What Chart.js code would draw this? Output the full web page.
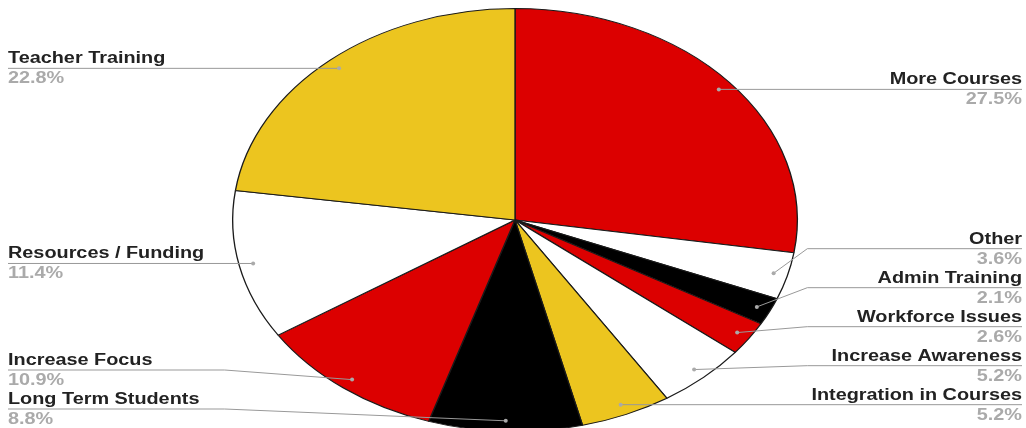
<!DOCTYPE html>
<html>
<head>
<meta charset="utf-8">
<script src="https://cdn.jsdelivr.net/npm/chart.js@4"></script>
<style>
  html, body { margin: 0; padding: 0; background: #fff; overflow: hidden; }
  #wrap { width: 1026px; height: 440px; }
</style>
</head>
<body>
<div id="wrap"><canvas id="myChart"></canvas></div>
<script>
const categories = [
  "More Courses", "Other", "Admin Training", "Workforce Issues",
  "Increase Awareness", "Integration in Courses", "Long Term Students",
  "Increase Focus", "Resources / Funding", "Teacher Training"
];
const shares = [27.5, 3.6, 2.1, 2.6, 5.2, 5.2, 8.8, 10.9, 11.4, 22.8];
const sliceColors = [
  "#dc0000", "#ffffff", "#000000", "#dc0000", "#ffffff",
  "#ecc51f", "#000000", "#dc0000", "#ffffff", "#ecc51f"
];

const stretchX = 283 / 212; // pie is drawn as a wide ellipse
const textStretch = 1.24;   // labels are a bit wide too
const font = "bold 16px 'Liberation Sans', Arial, sans-serif";

// squash the round pie into an ellipse
const ellipsePlugin = {
  id: "ellipse",
  beforeDatasetsDraw(chart) {
    const arc = chart.getDatasetMeta(0).data[0];
    const ctx = chart.ctx;
    ctx.save();
    ctx.translate(arc.x, arc.y);
    ctx.scale(stretchX, 1);
    ctx.translate(-arc.x, -arc.y);
  },
  afterDatasetsDraw(chart) {
    chart.ctx.restore();
  }
};

function wideText(ctx, txt, x, y, align) {
  ctx.save();
  ctx.translate(x, y);
  ctx.scale(textStretch, 1);
  ctx.textAlign = align;
  ctx.fillText(txt, 0, 0);
  ctx.restore();
}

// leader lines and labels like the original
const labelPlugin = {
  id: "sideLabels",
  afterDraw(chart) {
    const ctx = chart.ctx;
    const arcs = chart.getDatasetMeta(0).data;
    const cx = arcs[0].x, cy = arcs[0].y, r = arcs[0].outerRadius;
    const left = [], right = [];
    arcs.forEach((a, i) => {
      const mid = (a.startAngle + a.endAngle) / 2;
      const dx = cx + Math.cos(mid) * r * 0.95 * stretchX;
      const dy = cy + Math.sin(mid) * r * 0.95;
      const item = { i, dx, dy, ly: dy };
      (dx >= cx ? right : left).push(item);
    });
    const gap = 39, bottom = 409;
    [left, right].forEach(side => {
      side.sort((a, b) => a.dy - b.dy);
      for (let k = side.length - 1; k >= 0; k--) {
        const limit = k === side.length - 1 ? bottom : side[k + 1].ly - gap;
        side[k].ly = Math.min(side[k].dy, limit);
      }
    });
    ctx.save();
    ctx.font = font;
    ctx.textBaseline = "alphabetic";
    const draw = (item, isRight) => {
      const textX = isRight ? 1022 : 8;
      const bendX = isRight ? cx + r * stretchX + 10 : cx - r * stretchX - 8;
      ctx.strokeStyle = "#999";
      ctx.lineWidth = 1;
      ctx.beginPath();
      ctx.moveTo(textX, item.ly);
      if (Math.abs(item.ly - item.dy) > 1) ctx.lineTo(bendX, item.ly);
      ctx.lineTo(item.dx, item.dy);
      ctx.stroke();
      ctx.fillStyle = "#aaa";
      ctx.beginPath();
      ctx.arc(item.dx, item.dy, 2, 0, Math.PI * 2);
      ctx.fill();
      const align = isRight ? "right" : "left";
      ctx.fillStyle = "#222";
      wideText(ctx, categories[item.i], textX, item.ly - 5, align);
      ctx.fillStyle = "#aaa";
      wideText(ctx, shares[item.i].toFixed(1) + "%", textX, item.ly + 15, align);
    };
    left.forEach(it => draw(it, false));
    right.forEach(it => draw(it, true));
    ctx.restore();
  }
};

new Chart(document.getElementById("myChart"), {
  type: "pie",
  data: {
    labels: categories,
    datasets: [{
      data: shares,
      backgroundColor: sliceColors,
      borderColor: "#1a1a1a",
      borderWidth: 1
    }]
  },
  options: {
    responsive: true,
    maintainAspectRatio: false,
    animation: false,
    layout: { padding: { top: 8, bottom: 8, left: 100, right: 96 } },
    plugins: {
      legend: { display: false },
      tooltip: { enabled: false }
    }
  },
  plugins: [ellipsePlugin, labelPlugin]
});
</script>
</body>
</html>
